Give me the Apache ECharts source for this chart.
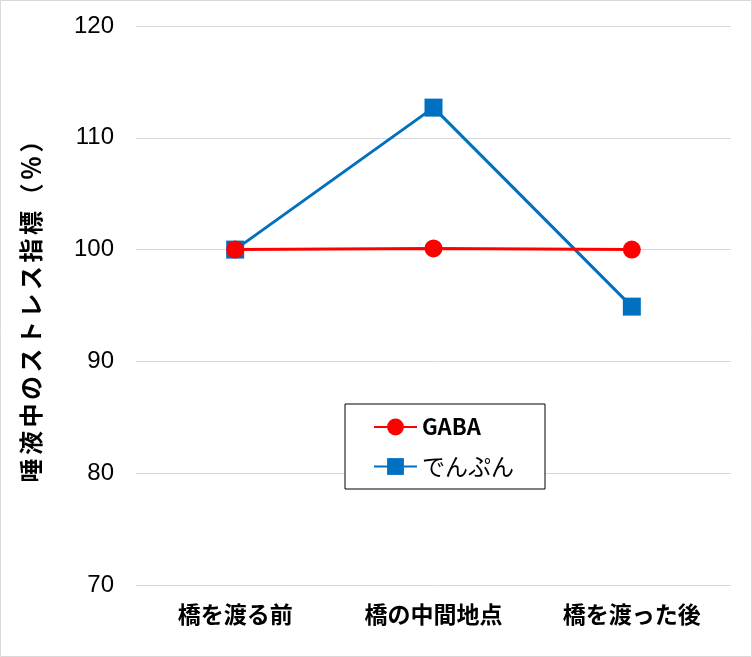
<!DOCTYPE html>
<html>
<head>
<meta charset="utf-8">
<script src="https://cdn.jsdelivr.net/npm/echarts@6/dist/echarts.min.js"></script>
<style>html,body{margin:0;padding:0;background:#fff}#c{width:752px;height:657px}</style>
</head>
<body>
<div id="c"></div>
<script>
const categories = ['橋を渡る前', '橋の中間地点', '橋を渡った後'];
const gabaValues = [100, 100.1, 100];
const starchValues = [100, 112.7, 94.9];
const seriesNames = ['GABA', 'でんぷん'];
const yTitle = '唾液中のストレス指標（％）';
const yMin = 70, yMax = 120, yStep = 10;

const chart = echarts.init(document.getElementById('c'), null, {renderer: 'canvas'});
const titleRich = yTitle.split('').map(ch => '{c|' + ch + '}').join('');
const jp = '"Noto Sans CJK JP", sans-serif';
chart.setOption({
  animation: false,
  backgroundColor: '#fff',
  graphic: [{
    type: 'rect', shape: {x: 0.5, y: 0.5, width: 751, height: 656},
    style: {fill: 'none', stroke: '#d9d9d9', lineWidth: 1}, silent: true
  }],
  grid: {left: 136, right: 21, top: 26, bottom: 72},
  legend: {
    left: 345, top: 404,
    orient: 'vertical',
    padding: [12, 31, 11, 28],
    itemGap: 17,
    itemWidth: 43, itemHeight: 21,
    borderColor: '#000', borderWidth: 1,
    backgroundColor: '#fff',
    textStyle: {fontSize: 23, color: '#000', fontFamily: jp},
    data: [
      {name: seriesNames[0], textStyle: {fontWeight: 'bold', fontSize: 22, fontFamily: jp}},
      {name: seriesNames[1]}
    ]
  },
  xAxis: {
    type: 'category',
    data: categories,
    axisLine: {show: false},
    axisTick: {show: false},
    axisLabel: {
      margin: 18, fontSize: 23, fontWeight: 'bold', color: '#000', fontFamily: jp
    }
  },
  yAxis: {
    type: 'value', min: yMin, max: yMax, interval: yStep,
    name: titleRich,
    nameLocation: 'middle',
    nameRotate: 90,
    nameGap: 93,
    nameTextStyle: {
      fontSize: 24, fontWeight: 'bold', fontFamily: jp,
      rich: {c: {fontSize: 24, fontWeight: 'bold', color: '#000', width: 27.5, align: 'center', fontFamily: jp}}
    },
    axisLine: {show: false},
    axisTick: {show: false},
    axisLabel: {margin: 22, fontSize: 24, color: '#000', fontFamily: '"Liberation Sans", Arial, sans-serif'},
    splitLine: {lineStyle: {color: '#d9d9d9', width: 1}}
  },
  series: [
    {
      name: seriesNames[0], type: 'line', data: gabaValues,
      symbol: 'circle', symbolSize: 18,
      lineStyle: {color: '#ff0000', width: 3},
      itemStyle: {color: '#ff0000'},
      z: 3
    },
    {
      name: seriesNames[1], type: 'line', data: starchValues,
      symbol: 'rect', symbolSize: 18,
      lineStyle: {color: '#0070c0', width: 3},
      itemStyle: {color: '#0070c0'},
      z: 2
    }
  ]
});
</script>
</body>
</html>
